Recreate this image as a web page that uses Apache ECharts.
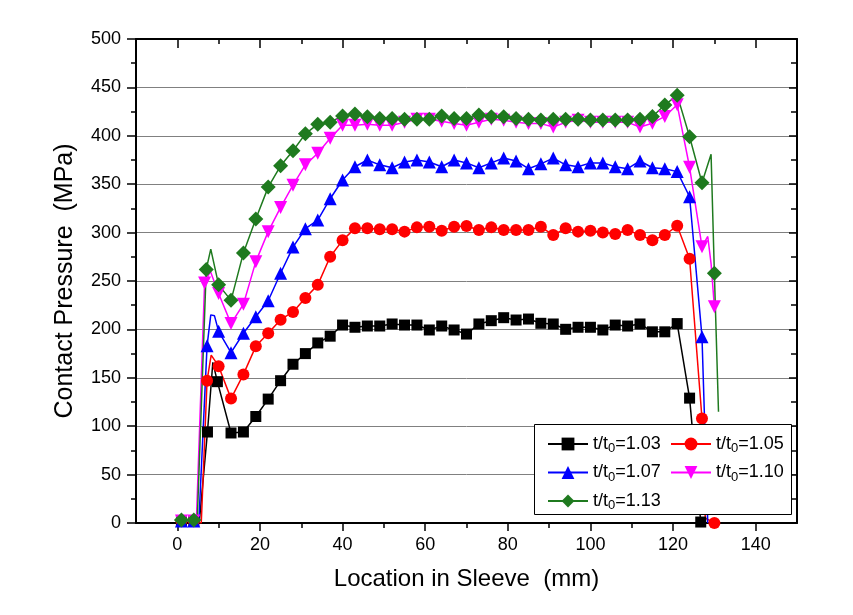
<!DOCTYPE html>
<html>
<head>
<meta charset="utf-8">
<script src="https://cdn.jsdelivr.net/npm/echarts@6/dist/echarts.min.js"></script>
<style>
html,body{margin:0;padding:0;background:#fff;}
#chart{width:853px;height:615px;}
</style>
</head>
<body>
<div id="chart"></div>
<script>
// ---- Data ----
// m: 1 = point drawn with a marker, 0 = line vertex only
const x103 = [1, 4, 5.3, 7.3, 8.6, 9.7, 13, 16, 19, 22, 25, 28, 31, 34, 37, 40, 43, 46, 49, 52, 55, 58, 61, 64, 67, 70, 73, 76, 79, 82, 85, 88, 91, 94, 97, 100, 103, 106, 109, 112, 115, 118, 121, 124, 126.7];
const y103 = [2, 2, 0, 94, 166, 146, 93, 94, 110, 128, 147, 164, 175, 186, 193, 204.5, 202.2, 203.5, 203.5, 205.6, 204.5, 204.5, 199.4, 203.5, 199.4, 195.2, 205.6, 209, 212.1, 209.7, 210.7, 206.3, 205.6, 200.1, 202.2, 202.2, 199.4, 204.5, 203.5, 205.6, 197.5, 197.5, 206, 129, 1];
const m103 = [1, 1, 0, 1, 0, 1, 1, 1, 1, 1, 1, 1, 1, 1, 1, 1, 1, 1, 1, 1, 1, 1, 1, 1, 1, 1, 1, 1, 1, 1, 1, 1, 1, 1, 1, 1, 1, 1, 1, 1, 1, 1, 1, 1, 1];

const x105 = [1, 4, 5.8, 7.2, 8.2, 10, 13, 16, 19, 22, 25, 28, 31, 34, 37, 40, 43, 46, 49, 52, 55, 58, 61, 64, 67, 70, 73, 76, 79, 82, 85, 88, 91, 94, 97, 100, 103, 106, 109, 112, 115, 118, 121, 124, 127, 127.8, 130];
const y105 = [2, 2, 0, 147, 173.5, 162, 128.5, 153.5, 182.5, 196, 210, 218, 232.5, 246, 275, 292, 304.4, 304.4, 303.4, 303.4, 301, 305.4, 306, 302, 306, 306.8, 302.6, 305.4, 302.6, 302.6, 302.6, 306, 297.5, 304.4, 301, 302, 300, 298.6, 302.6, 297.5, 292, 297.5, 307, 273, 108, 5, 0];
const m105 = [1, 1, 0, 1, 0, 1, 1, 1, 1, 1, 1, 1, 1, 1, 1, 1, 1, 1, 1, 1, 1, 1, 1, 1, 1, 1, 1, 1, 1, 1, 1, 1, 1, 1, 1, 1, 1, 1, 1, 1, 1, 1, 1, 1, 1, 0, 1];

const x107 = [1, 4, 5.2, 7.2, 8.1, 9.0, 10, 13, 16, 19, 22, 25, 28, 31, 34, 37, 40, 43, 46, 49, 52, 55, 58, 61, 64, 67, 70, 73, 76, 79, 82, 85, 88, 91, 94, 97, 100, 103, 106, 109, 112, 115, 118, 121, 124, 127, 128.4];
const y107 = [2, 2, 0, 183, 215, 214, 198, 176, 196, 213, 229.6, 258, 285, 304, 313, 335, 354.3, 368, 375, 370, 367, 373, 375, 373, 368, 375, 372, 367, 372, 377, 374, 366, 371, 377, 370, 368, 372, 372, 368, 366, 374, 367, 366, 363, 337, 192.5, 0];
const m107 = [1, 1, 0, 1, 0, 0, 1, 1, 1, 1, 1, 1, 1, 1, 1, 1, 1, 1, 1, 1, 1, 1, 1, 1, 1, 1, 1, 1, 1, 1, 1, 1, 1, 1, 1, 1, 1, 1, 1, 1, 1, 1, 1, 1, 1, 1, 0];

const x110 = [1, 4, 4.6, 6.6, 8.0, 10, 13, 16, 19, 22, 25, 28, 31, 34, 37, 40, 43, 46, 49, 52, 55, 58, 61, 64, 67, 70, 73, 76, 79, 82, 85, 88, 91, 94, 97, 100, 103, 106, 109, 112, 115, 118, 121, 124, 127, 128.4, 129.2, 130];
const y110 = [2, 2, 0, 248, 260, 237, 206, 226, 270, 301, 326, 349, 370, 382, 397.4, 411, 411, 412, 411, 411, 414, 417, 417, 415, 412.6, 411, 414, 417, 416, 414, 412.6, 412.6, 409, 414, 416, 414, 414, 414, 414, 409, 413, 420, 432, 367.5, 285.4, 296, 268, 223.5];
const m110 = [1, 1, 0, 1, 0, 1, 1, 1, 1, 1, 1, 1, 1, 1, 1, 1, 1, 1, 1, 1, 1, 1, 1, 1, 1, 1, 1, 1, 1, 1, 1, 1, 1, 1, 1, 1, 1, 1, 1, 1, 1, 1, 1, 1, 1, 0, 0, 1];

const x113 = [1, 4, 4.8, 7, 8.1, 10, 13, 16, 19, 22, 25, 28, 31, 34, 37, 40, 43, 46, 49, 52, 55, 58, 61, 64, 67, 70, 73, 76, 79, 82, 85, 88, 91, 94, 97, 100, 103, 106, 109, 112, 115, 118, 121, 124, 127, 129.2, 130, 131];
const y113 = [3, 3, 0, 262, 283, 246, 230, 279, 314, 347, 369, 384.6, 402, 412, 414, 420.5, 422.5, 419.7, 418, 418, 417, 417, 417, 420.5, 418, 418, 421.5, 419.7, 419.7, 418, 417, 416.3, 417, 417, 417, 416.3, 416.3, 416.3, 416.3, 417, 420, 431.8, 442, 399, 351.5, 381, 258, 115];
const m113 = [1, 1, 0, 1, 0, 1, 1, 1, 1, 1, 1, 1, 1, 1, 1, 1, 1, 1, 1, 1, 1, 1, 1, 1, 1, 1, 1, 1, 1, 1, 1, 1, 1, 1, 1, 1, 1, 1, 1, 1, 1, 1, 1, 1, 1, 0, 1, 0];

const seriesNames = ['t/t0=1.03', 't/t0=1.05', 't/t0=1.07', 't/t0=1.10', 't/t0=1.13'];
const xMajorTicks = [0, 20, 40, 60, 80, 100, 120, 140];
const xMinorTicks = [10, 30, 50, 70, 90, 110, 130];

// ---- Chart ----
const FONT = '"Liberation Sans", Arial, sans-serif';
const chart = echarts.init(document.getElementById('chart'), null, {renderer: 'canvas'});

function buildData(xs, ys, ms) {
  return xs.map((x, i) => ms[i] ? {value: [x, ys[i]]} : {value: [x, ys[i]], symbol: 'none'});
}

const seriesDefs = [
  {name: seriesNames[0], xs: x103, ys: y103, ms: m103, color: '#000000', symbol: 'rect', size: 11, rotate: 0},
  {name: seriesNames[1], xs: x105, ys: y105, ms: m105, color: '#ff0000', symbol: 'circle', size: 12, rotate: 0},
  {name: seriesNames[2], xs: x107, ys: y107, ms: m107, color: '#0000ff', symbol: 'triangle', size: 13, rotate: 0},
  {name: seriesNames[3], xs: x110, ys: y110, ms: m110, color: '#ff00ff', symbol: 'triangle', size: 13, rotate: 180},
  {name: seriesNames[4], xs: x113, ys: y113, ms: m113, color: '#1f7a1f', symbol: 'diamond', size: 15, rotate: 0}
];

const series = seriesDefs.map(d => ({
  name: d.name,
  type: 'line',
  xAxisIndex: 0,
  yAxisIndex: 0,
  data: buildData(d.xs, d.ys, d.ms),
  symbol: d.symbol,
  symbolSize: d.size,
  symbolRotate: d.rotate,
  showAllSymbol: true,
  animation: false,
  lineStyle: {color: d.color, width: 1.5},
  itemStyle: {color: d.color, borderWidth: 0},
  emphasis: {disabled: true}
}));

const legendFormatter = name => {
  const rest = name.split('t0')[1];
  return '{a|t/t}{s|0}{a|' + rest + '}';
};
const legendText = {
  fontFamily: FONT,
  fontSize: 18,
  color: '#000',
  rich: {
    a: {fontFamily: FONT, fontSize: 18, color: '#000', lineHeight: 20},
    s: {fontFamily: FONT, fontSize: 13, color: '#000', lineHeight: 20, padding: [9, 0, 0, 0]}
  }
};

const axisLineStyle = {color: '#000', width: 2};
const tickStyle = {color: '#000', width: 1.5};

const option = {
  animation: false,
  backgroundColor: '#ffffff',
  grid: {left: 136, right: 56, top: 39, bottom: 92, containLabel: false},
  xAxis: [
    {
      type: 'value', position: 'bottom', min: -10, max: 150,
      name: 'Location in Sleeve  (mm)', nameLocation: 'middle', nameGap: 44,
      nameTextStyle: {fontFamily: FONT, fontSize: 24, color: '#000'},
      axisLine: {show: true, onZero: false, lineStyle: axisLineStyle},
      axisTick: {show: true, inside: false, length: 8, lineStyle: tickStyle, customValues: xMajorTicks},
      axisLabel: {show: true, fontFamily: FONT, fontSize: 18, color: '#000', margin: 13, customValues: xMajorTicks},
      splitLine: {show: false}
    },
    {
      type: 'value', position: 'bottom', min: -10, max: 150,
      axisLine: {show: false, onZero: false},
      axisTick: {show: true, inside: false, length: 5, lineStyle: tickStyle, customValues: xMinorTicks},
      axisLabel: {show: false},
      splitLine: {show: false}
    },
    {
      type: 'value', position: 'top', min: -10, max: 150,
      axisLine: {show: true, onZero: false, lineStyle: axisLineStyle},
      axisTick: {show: true, inside: true, length: 9, lineStyle: tickStyle, customValues: xMajorTicks},
      axisLabel: {show: false},
      splitLine: {show: false}
    },
    {
      type: 'value', position: 'top', min: -10, max: 150,
      axisLine: {show: false, onZero: false},
      axisTick: {show: true, inside: true, length: 5, lineStyle: tickStyle, customValues: xMinorTicks},
      axisLabel: {show: false},
      splitLine: {show: false}
    }
  ],
  yAxis: [
    {
      type: 'value', position: 'left', min: 0, max: 500, interval: 50,
      name: 'Contact Pressure  (MPa)', nameLocation: 'middle', nameGap: 58, nameRotate: 90,
      nameTextStyle: {fontFamily: FONT, fontSize: 25, color: '#000'},
      axisLine: {show: true, onZero: false, lineStyle: axisLineStyle},
      axisTick: {show: true, inside: false, length: 9, lineStyle: tickStyle},
      minorTick: {show: true, splitNumber: 2, length: 5, lineStyle: tickStyle},
      axisLabel: {show: true, fontFamily: FONT, fontSize: 18, color: '#000', margin: 15},
      splitLine: {show: true, lineStyle: {color: '#808080', width: 1}}
    },
    {
      type: 'value', position: 'right', min: 0, max: 500, interval: 50,
      axisLine: {show: true, onZero: false, lineStyle: axisLineStyle},
      axisTick: {show: true, inside: true, length: 8, lineStyle: tickStyle},
      minorTick: {show: true, splitNumber: 2, length: 6, lineStyle: tickStyle},
      axisLabel: {show: false},
      splitLine: {show: false}
    }
  ],
  legend: [
    {
      data: [seriesNames[0], seriesNames[2], seriesNames[4]],
      orient: 'vertical', left: 547, top: 433, z: 20,
      itemWidth: 40, itemHeight: 16, itemGap: 6.5, padding: 0,
      formatter: legendFormatter, textStyle: legendText,
      selectedMode: false
    },
    {
      data: [seriesNames[1], seriesNames[3]],
      orient: 'vertical', left: 670, top: 433, z: 20,
      itemWidth: 40, itemHeight: 16, itemGap: 6.5, padding: 0,
      formatter: legendFormatter, textStyle: legendText,
      selectedMode: false
    }
  ],
  graphic: [
    {
      type: 'rect', z: 10, silent: true,
      shape: {x: 534.5, y: 424.5, width: 257, height: 90},
      style: {fill: '#ffffff', stroke: '#000000', lineWidth: 1}
    }
  ],
  series: series
};

chart.setOption(option);
</script>
</body>
</html>
